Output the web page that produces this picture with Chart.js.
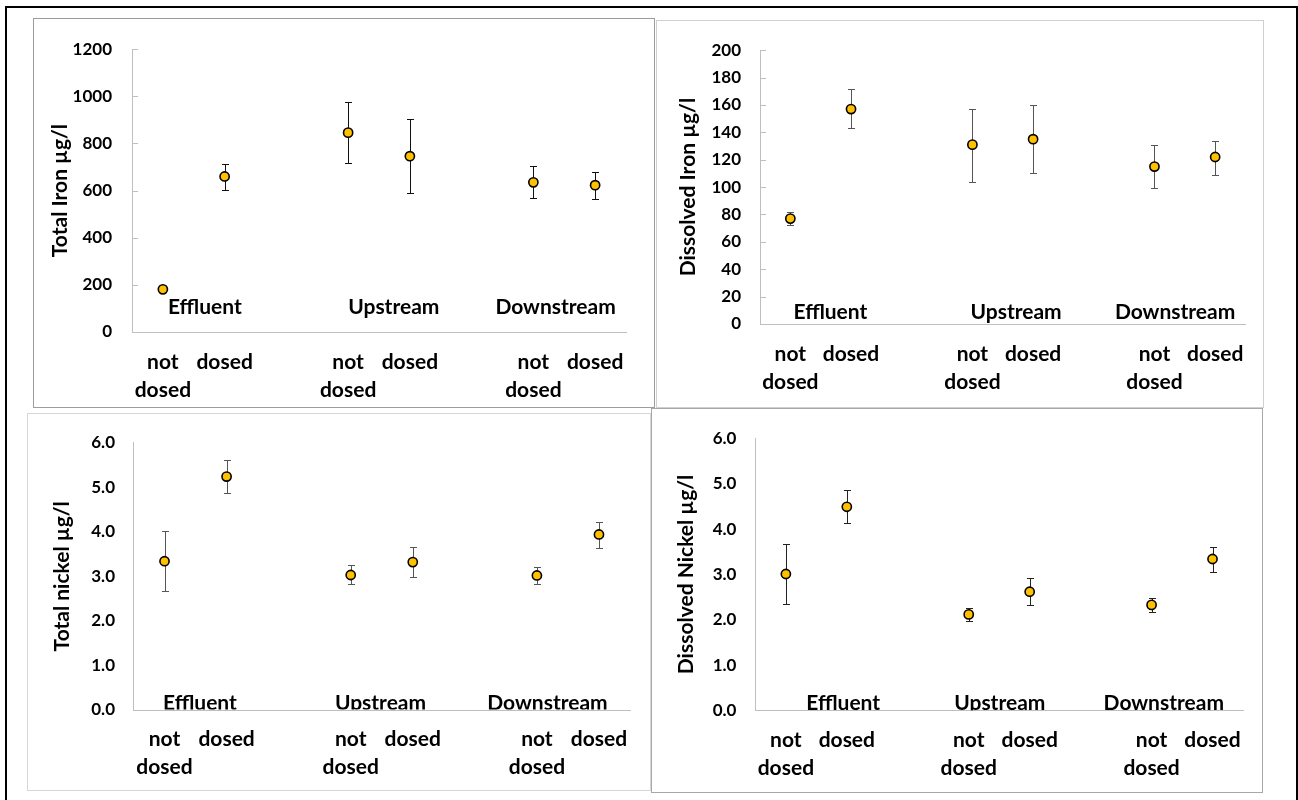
<!DOCTYPE html>
<html><head><meta charset="utf-8">
<script src="https://cdn.jsdelivr.net/npm/chart.js@4.4.0/dist/chart.umd.min.js"></script>
<style>
html,body{margin:0;padding:0;background:#fff;}
body{width:1298px;height:800px;position:relative;overflow:hidden;font-family:Lato,sans-serif;}
#frame{position:absolute;left:5px;top:6px;width:1293px;height:820px;border:2px solid #000;box-sizing:border-box;}
.panel{position:absolute;box-sizing:border-box;border:1px solid #bbb;background:#fff;}
.panel canvas{position:absolute;left:0;top:0;}
</style></head><body>
<div id="frame"></div>
<div class="panel" style="left:33px;top:18px;width:622px;height:390px;border-color:#9c9c9c"><canvas id="c1" width="620" height="388"></canvas></div>
<div class="panel" style="left:656px;top:20px;width:608px;height:388px;border-color:#d0d0d0"><canvas id="c2" width="606" height="386"></canvas></div>
<div class="panel" style="left:27px;top:413px;width:624px;height:378px;border-color:#d6d6d6"><canvas id="c3" width="622" height="376"></canvas></div>
<div class="panel" style="left:651px;top:408px;width:612px;height:385px;border-color:#a8a8a8"><canvas id="c4" width="610" height="383"></canvas></div>
<script>
// ---- data ----
const categories = [['not', 'dosed'], 'dosed', '', ['not', 'dosed'], 'dosed', '', ['not', 'dosed'], 'dosed'];
const groupLabels = ['Effluent', 'Upstream', 'Downstream'];

const totalIron     = [181, 660, null, 846, 746, null, 635, 623];
const totalIronLow  = [181, 603, null, 715, 588, null, 567, 565];
const totalIronHigh = [181, 714, null, 974, 904, null, 703, 677];

const dissolvedIron     = [77, 157, null, 131, 135, null, 115, 122];
const dissolvedIronLow  = [72, 143, null, 104, 110, null, 99, 109];
const dissolvedIronHigh = [82, 172, null, 157, 160, null, 131, 134];

const totalNickel     = [3.34, 5.24, null, 3.03, 3.32, null, 3.02, 3.94];
const totalNickelLow  = [2.67, 4.86, null, 2.82, 2.98, null, 2.83, 3.64];
const totalNickelHigh = [4.02, 5.62, null, 3.26, 3.66, null, 3.22, 4.23];

const dissolvedNickel     = [3.01, 4.49, null, 2.12, 2.62, null, 2.33, 3.34];
const dissolvedNickelLow  = [2.34, 4.13, null, 1.98, 2.32, null, 2.17, 3.06];
const dissolvedNickelHigh = [3.68, 4.86, null, 2.27, 2.92, null, 2.49, 3.61];

// ---- drawing helpers ----
const decor = {
  id: 'decor',
  beforeDatasetsDraw(chart, args, o) {
    const ctx = chart.ctx, xs = chart.scales.x, ys = chart.scales.y;
    if (o.innerTicks) {
      ctx.save();
      ctx.strokeStyle = o.axisColor; ctx.lineWidth = 1;
      ys.ticks.forEach(t => {
        const py = Math.round(ys.getPixelForValue(t.value)) + 0.5;
        ctx.beginPath(); ctx.moveTo(ys.right, py); ctx.lineTo(ys.right + 6, py); ctx.stroke();
      });
      ctx.restore();
    }
    ctx.save();
    ctx.strokeStyle = o.errColor; ctx.lineWidth = 1;
    o.low.forEach((lo, i) => {
      const hi = o.high[i];
      if (lo == null || hi == null || lo === hi) return;
      const px = Math.round(xs.getPixelForValue(i)) + 0.5;
      const pl = Math.round(ys.getPixelForValue(lo)) + 0.5, ph = Math.round(ys.getPixelForValue(hi)) + 0.5;
      ctx.beginPath();
      ctx.moveTo(px, pl); ctx.lineTo(px, ph);
      ctx.moveTo(px - 3.5, pl); ctx.lineTo(px + 3.5, pl);
      ctx.moveTo(px - 3.5, ph); ctx.lineTo(px + 3.5, ph);
      ctx.stroke();
    });
    ctx.restore();
  },
  afterDatasetsDraw(chart, args, o) {
    const ctx = chart.ctx, xs = chart.scales.x, a = chart.chartArea;
    ctx.save();
    ctx.beginPath(); ctx.rect(a.left, a.top, a.right - a.left, a.bottom - a.top - 0.5); ctx.clip();
    ctx.font = 'bold 21px Lato';
    ctx.fillStyle = '#000'; ctx.textAlign = 'center'; ctx.textBaseline = 'middle';
    groupLabels.forEach((g, k) => {
      ctx.fillText(g, xs.getPixelForValue(o.groupPos[k]), a.bottom - o.groupLift);
    });
    ctx.restore();
  }
};

function makeChart(id, c) {
  const axisColor = '#bfbfbf';
  return new Chart(document.getElementById(id), {
    type: 'line',
    data: {
      labels: categories,
      datasets: [{
        data: c.values, showLine: false,
        pointRadius: 4.6, pointHoverRadius: 4.6,
        pointBackgroundColor: '#FFC000', pointBorderColor: '#000', pointBorderWidth: 1.6
      }]
    },
    options: {
      responsive: false, animation: false, devicePixelRatio: 1,
      events: [],
      layout: { padding: { top: c.padTop, right: c.padRight, left: 0, bottom: 0 } },
      plugins: {
        legend: { display: false }, tooltip: { enabled: false },
        decor: { low: c.low, high: c.high, innerTicks: c.innerTicks, axisColor: axisColor,
                 errColor: c.errColor, groupPos: c.groupPos, groupLift: c.groupLift }
      },
      scales: {
        x: {
          type: 'category', offset: true,
          grid: { display: true, drawOnChartArea: false, drawTicks: false },
          border: { display: true, color: axisColor, width: 1 },
          ticks: { color: '#000', font: { family: 'Lato', weight: 'bold', size: 21, lineHeight: '28px' },
                   padding: c.xPad, maxRotation: 0, minRotation: 0, autoSkip: false },
          afterFit: s => { s.height = c.xHeight; }
        },
        y: {
          min: c.min, max: c.max,
          grid: { display: true, drawOnChartArea: false, drawTicks: false },
          border: { display: true, color: axisColor, width: 1 },
          ticks: { stepSize: c.step, color: '#000', padding: c.yPad,
                   font: { family: 'Lato', weight: 'bold', size: 17 },
                   callback: v => c.decimals ? Number(v).toFixed(c.decimals) : String(v) },
          title: { display: true, text: c.title, color: '#000',
                   font: { family: 'Lato', weight: 'bold', size: 21 },
                   padding: { top: c.titlePad, bottom: 0 } },
          afterFit: s => { s.width = c.yWidth; }
        }
      }
    },
    plugins: [decor]
  });
}

makeChart('c1', { values: totalIron, low: totalIronLow, high: totalIronHigh, title: 'Total Iron µg/l',
  min: 0, max: 1200, step: 200, decimals: 0, padTop: 24, padRight: 28, yWidth: 98, xHeight: 75,
  xPad: 16, yPad: 20, titlePad: 13.4, groupPos: [0.68, 3.74, 6.36], groupLift: 25,
  innerTicks: true, errColor: '#111' });

makeChart('c2', { values: dissolvedIron, low: dissolvedIronLow, high: dissolvedIronHigh, title: 'Dissolved Iron µg/l',
  min: 0, max: 200, step: 20, decimals: 0, padTop: 17, padRight: 17.5, yWidth: 103, xHeight: 83,
  xPad: 16, yPad: 19, titlePad: 18.4, groupPos: [0.66, 3.72, 6.34], groupLift: 12,
  innerTicks: true, errColor: '#555' });

makeChart('c3', { values: totalNickel, low: totalNickelLow, high: totalNickelHigh, title: 'Total nickel µg/l',
  min: 0, max: 6, step: 1, decimals: 1, padTop: 17.7, padRight: 20, yWidth: 105.5, xHeight: 80,
  xPad: 15, yPad: 18.5, titlePad: 21.4, groupPos: [0.57, 3.48, 6.17], groupLift: 7,
  innerTicks: false, errColor: '#555' });

makeChart('c4', { values: dissolvedNickel, low: dissolvedNickelLow, high: dissolvedNickelHigh, title: 'Dissolved Nickel µg/l',
  min: 0, max: 6, step: 1, decimals: 1, padTop: 18.3, padRight: 19, yWidth: 103.4, xHeight: 81.3,
  xPad: 16, yPad: 19, titlePad: 21.4, groupPos: [0.94, 3.51, 6.20], groupLift: 7,
  innerTicks: false, errColor: '#222' });
</script>
</body></html>
